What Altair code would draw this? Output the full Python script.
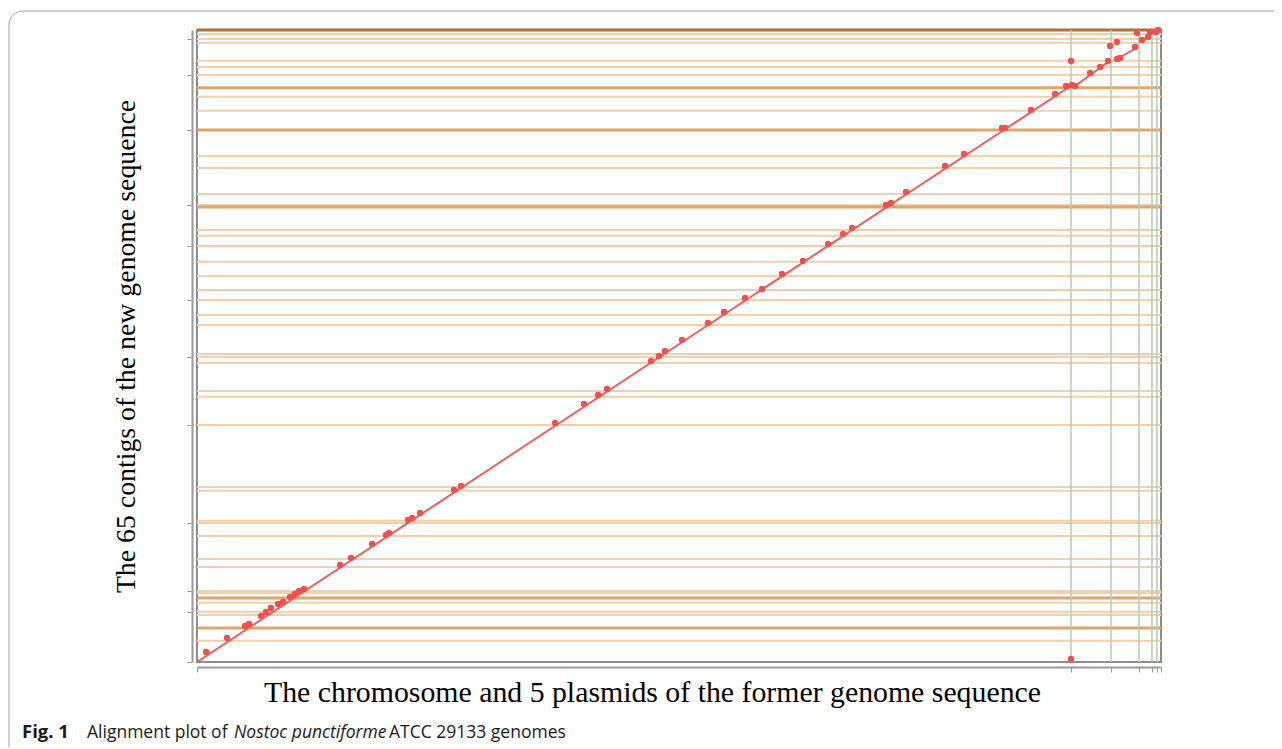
import altair as alt
import pandas as pd

# Genome lengths (Mb)
x_total = 9.06   # former: chromosome + 5 plasmids
y_total = 9.0    # new: 65 contigs

# Replicon boundaries on the former genome (Mb)
replicon_bounds = [8.214, 8.590, 8.853, 8.975, 9.022]
x_ticks = [0.0, 8.214, 8.590, 8.853, 8.975, 9.022, 9.06]

# Contig boundaries on the new genome (Mb)
contig_light = [8.943, 8.872, 8.819, 8.563, 8.473, 8.360, 8.050, 7.851, 7.206,
                7.035, 6.665, 6.508, 6.152, 6.071, 5.924, 5.701, 5.497, 5.298,
                5.155, 4.942, 4.799, 4.386, 4.344, 4.258, 3.859, 3.778, 3.375,
                2.492, 2.439, 2.012, 1.979, 1.794, 1.467, 1.353, 1.011, 0.983,
                0.844, 0.716, 0.669, 0.303]
contig_dark = [8.179, 7.576, 6.480, 0.911, 0.484]
contig_top = [9.0]

# Alignment anchor points (former Mb, new Mb)
match_x = [0.085, 0.282, 0.451, 0.489, 0.601, 0.648, 0.695, 0.761, 0.808, 0.874,
           0.921, 0.959, 1.006, 1.344, 1.447, 1.645, 1.776, 1.804, 1.983, 2.021,
           2.096, 2.415, 2.481, 3.365, 3.637, 3.769, 3.853, 4.267, 4.342, 4.398,
           4.558, 4.802, 4.953, 5.150, 5.310, 5.498, 5.695, 5.930, 6.071, 6.156,
           6.475, 6.522, 6.663, 7.030, 7.208, 7.566, 7.594, 7.838, 8.064, 8.167,
           8.224, 8.252, 8.214, 8.214, 8.393, 8.487, 8.562, 8.581, 8.646, 8.646,
           8.675, 8.816, 8.834, 8.881, 8.938, 8.957, 9.013, 9.032]
match_y = [0.142, 0.342, 0.513, 0.541, 0.655, 0.712, 0.769, 0.826, 0.854, 0.926,
           0.968, 1.011, 1.040, 1.381, 1.481, 1.680, 1.809, 1.837, 2.022, 2.051,
           2.122, 2.449, 2.506, 3.404, 3.674, 3.802, 3.888, 4.287, 4.358, 4.429,
           4.586, 4.828, 4.984, 5.184, 5.312, 5.526, 5.711, 5.953, 6.095, 6.181,
           6.508, 6.537, 6.693, 7.064, 7.234, 7.605, 7.605, 7.861, 8.089, 8.203,
           8.217, 8.203, 8.559, 0.043, 8.388, 8.473, 8.559, 8.772, 8.829, 8.587,
           8.602, 8.758, 8.958, 8.858, 8.901, 8.972, 8.972, 9.000]

# Aligned segments
seg_id = ["chr", "chr", "p1", "p1", "p2", "p2", "p3", "p3"]
seg_x = [0.0, 8.224, 8.252, 8.562, 8.646, 8.844, 8.881, 8.938]
seg_y = [0.0, 8.217, 8.203, 8.545, 8.587, 8.758, 8.858, 8.901]

xs = alt.Scale(domain=[0, x_total], nice=False, zero=False)
ys = alt.Scale(domain=[0, y_total], nice=False, zero=False)

all_y_ticks = sorted([0.0] + contig_light + contig_dark + contig_top)

base_axis_x = alt.Axis(values=x_ticks, labels=False, ticks=True, tickSize=5,
                       tickColor="#9a9a9a", domainColor="#9a9a9a", domainWidth=2,
                       offset=5, grid=False,
                       title="The chromosome and 5 plasmids of the former genome sequence",
                       titleFont="Liberation Serif", titleFontSize=29.8,
                       titleFontWeight="normal", titleColor="#000000", titlePadding=5,
                       titleX=455, titleAlign="center")
base_axis_y = alt.Axis(values=all_y_ticks, labels=False, ticks=True, tickSize=5,
                       tickColor="#9a9a9a", domainColor="#9a9a9a", domainWidth=2,
                       offset=5, grid=False,
                       title="The 65 contigs of the new genome sequence",
                       titleFont="Liberation Serif", titleFontSize=27.8,
                       titleFontWeight="normal", titleColor="#000000", titlePadding=46)

light_df = pd.DataFrame({"y": contig_light})
dark_df = pd.DataFrame({"y": contig_dark})
top_df = pd.DataFrame({"y": contig_top})
rep_df = pd.DataFrame({"x": replicon_bounds})
pts_df = pd.DataFrame({"x": match_x, "y": match_y})
seg_df = pd.DataFrame({"id": seg_id, "x": seg_x, "y": seg_y})

light = alt.Chart(light_df).mark_rule(color="#f2cfae", strokeWidth=2).encode(
    y=alt.Y("y:Q", scale=ys, axis=base_axis_y))
dark = alt.Chart(dark_df).mark_rule(color="#e3a468", strokeWidth=3).encode(
    y=alt.Y("y:Q", scale=ys))
top = alt.Chart(top_df).mark_rule(color="#a8703c", strokeWidth=3).encode(
    y=alt.Y("y:Q", scale=ys))
rep = alt.Chart(rep_df).mark_rule(color="#b2cfae", strokeWidth=1.5).encode(
    x=alt.X("x:Q", scale=xs, axis=base_axis_x))
segs = alt.Chart(seg_df).mark_line(color="#f55a5a", strokeWidth=2).encode(
    x=alt.X("x:Q", scale=xs), y=alt.Y("y:Q", scale=ys), detail="id:N")
pts = alt.Chart(pts_df).mark_point(filled=True, color="#f54e4e", size=40, opacity=1).encode(
    x=alt.X("x:Q", scale=xs), y=alt.Y("y:Q", scale=ys))

# Figure frame and caption (decoration outside the plot)
frame = alt.Chart(pd.DataFrame({"a": [0]})).mark_rect(
    fillOpacity=0, stroke="#a0a0a0", strokeWidth=1, cornerRadius=14).encode(
    x=alt.value(-188), x2=alt.value(1120), y=alt.value(-19), y2=alt.value(790))

cap_font = "Open Sans"
cap_y = 708
cap_size = 17.5
cap1 = alt.Chart(pd.DataFrame({"a": [0]})).mark_text(
    text="Fig. 1", font=cap_font, fontSize=18.5, fontWeight="bold", align="left",
    baseline="alphabetic", color="#1a1a1a").encode(x=alt.value(-175), y=alt.value(cap_y))
cap2 = alt.Chart(pd.DataFrame({"a": [0]})).mark_text(
    text="Alignment plot of", font=cap_font, fontSize=cap_size, align="left",
    baseline="alphabetic", color="#1a1a1a").encode(x=alt.value(-110), y=alt.value(cap_y))
cap3 = alt.Chart(pd.DataFrame({"a": [0]})).mark_text(
    text="Nostoc punctiforme", font=cap_font, fontSize=cap_size, fontStyle="italic", align="left",
    baseline="alphabetic", color="#1a1a1a").encode(x=alt.value(37), y=alt.value(cap_y))
cap4 = alt.Chart(pd.DataFrame({"a": [0]})).mark_text(
    text="ATCC 29133 genomes", font=cap_font, fontSize=cap_size, align="left",
    baseline="alphabetic", color="#1a1a1a").encode(x=alt.value(192), y=alt.value(cap_y))

chart = alt.layer(frame, light, dark, top, rep, segs, pts, cap1, cap2, cap3, cap4).properties(
    width=964, height=632,
    autosize=alt.AutoSizeParams(type="none"),
    padding={"left": 189, "top": 22, "right": 113, "bottom": 85},
    background="#ffffff",
).configure_view(stroke="#8c8c8c", strokeWidth=2)

chart.save("out.html", embed_options={"renderer": "svg", "actions": False})
